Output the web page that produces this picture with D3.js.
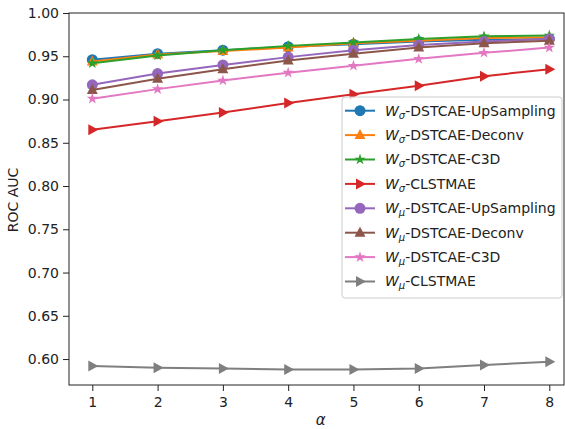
<!DOCTYPE html>
<html>
<head>
<meta charset="utf-8">
<script src="https://cdn.jsdelivr.net/npm/d3@7"></script>
<style>
  body { margin: 0; background: #fff; }
  text { font-family: "DejaVu Sans", sans-serif; }
</style>
</head>
<body>
<div id="chart-container"></div>
<script>
// data
const alphas = [1, 2, 3, 4, 5, 6, 7, 8];
const seriesNames = [
  ["W", "σ", "-DSTCAE-UpSampling"],
  ["W", "σ", "-DSTCAE-Deconv"],
  ["W", "σ", "-DSTCAE-C3D"],
  ["W", "σ", "-CLSTMAE"],
  ["W", "μ", "-DSTCAE-UpSampling"],
  ["W", "μ", "-DSTCAE-Deconv"],
  ["W", "μ", "-DSTCAE-C3D"],
  ["W", "μ", "-CLSTMAE"]
];
const sigmaUp = [0.946, 0.953, 0.957, 0.961, 0.964, 0.967, 0.969, 0.970];
const sigmaDeconv = [0.944, 0.952, 0.956, 0.960, 0.965, 0.968, 0.971, 0.972];
const sigmaC3D = [0.942, 0.951, 0.957, 0.962, 0.966, 0.970, 0.973, 0.974];
const sigmaCLSTM = [0.865, 0.875, 0.885, 0.896, 0.906, 0.916, 0.927, 0.935];
const muUp = [0.917, 0.930, 0.940, 0.949, 0.957, 0.963, 0.967, 0.970];
const muDeconv = [0.911, 0.924, 0.935, 0.945, 0.953, 0.960, 0.965, 0.968];
const muC3D = [0.901, 0.912, 0.922, 0.931, 0.939, 0.947, 0.954, 0.960];
const muCLSTM = [0.592, 0.590, 0.589, 0.588, 0.588, 0.589, 0.593, 0.597];
const yTicks = [0.60, 0.65, 0.70, 0.75, 0.80, 0.85, 0.90, 0.95, 1.00];

const allSeries = [sigmaUp, sigmaDeconv, sigmaC3D, sigmaCLSTM, muUp, muDeconv, muC3D, muCLSTM];
const colors = ["#1f77b4", "#ff7f0e", "#2ca02c", "#d62728", "#9467bd", "#8c564b", "#e377c2", "#7f7f7f"];
const markers = ["circle", "up", "star", "right", "circle", "up", "star", "right"];

const W = 565, H = 429;
const margin = {top: 13, right: 1, bottom: 44, left: 69};
const width = W - margin.left - margin.right;
const height = H - margin.top - margin.bottom;

const x = d3.scaleLinear().domain([0.643, 8.225]).range([0, width]);
const y = d3.scaleLinear().domain([0.57, 1.0]).range([height, 0]);

const svg = d3.select("#chart-container")
  .append("svg")
  .attr("width", W)
  .attr("height", H)
  .append("g")
  .attr("transform", `translate(${margin.left},${margin.top})`);

// axes
const xAxis = svg.append("g")
  .attr("transform", `translate(0,${height})`)
  .call(d3.axisBottom(x).tickValues(alphas).tickFormat(d3.format("d")).tickSize(6).tickPadding(4));
const yAxis = svg.append("g")
  .call(d3.axisLeft(y).tickValues(yTicks).tickFormat(d3.format(".2f")).tickSize(6).tickPadding(4));
[xAxis, yAxis].forEach(a => {
  a.select(".domain").remove();
  a.selectAll("line").attr("stroke", "#222").attr("stroke-width", 1);
  a.selectAll("text").attr("font-size", 14).attr("fill", "#222");
});
xAxis.selectAll("text").attr("dy", "0.85em");

// frame
svg.append("rect")
  .attr("width", width).attr("height", height)
  .attr("fill", "none").attr("stroke", "#222").attr("stroke-width", 1);

// axis titles
svg.append("text")
  .attr("transform", `translate(${13 - margin.left},${200 - margin.top}) rotate(-90)`)
  .attr("text-anchor", "middle").attr("dy", "0.35em")
  .attr("font-size", 14).attr("fill", "#222")
  .text("ROC AUC");
svg.append("text")
  .attr("x", x(4.5)).attr("y", 420 - margin.top)
  .attr("text-anchor", "middle").attr("dy", "0.35em")
  .attr("font-size", 15).attr("font-style", "italic").attr("fill", "#222")
  .text("α");

function markerPath(kind) {
  if (kind === "circle") return d3.symbol(d3.symbolCircle, 95)();
  if (kind === "star") return d3.symbol(d3.symbolStar, 40)();
  if (kind === "up") return "M0,-6L5.5,4L-5.5,4Z";
  return "M6,0L-4,-5.5L-4,5.5Z";
}

const line = d3.line()
  .x((d, i) => x(alphas[i]))
  .y(d => y(d));

allSeries.forEach((vals, k) => {
  const g = svg.append("g");
  g.append("path")
    .datum(vals)
    .attr("fill", "none")
    .attr("stroke", colors[k])
    .attr("stroke-width", 2)
    .attr("d", line);
  g.selectAll("path.m")
    .data(vals)
    .join("path")
    .attr("class", "m")
    .attr("transform", (d, i) => `translate(${x(alphas[i])},${y(d)})`)
    .attr("d", markerPath(markers[k]))
    .attr("fill", colors[k]);
});

// legend
const leg = svg.append("g").attr("transform", `translate(${342 - margin.left},${97 - margin.top})`);
leg.append("rect")
  .attr("width", 220).attr("height", 201).attr("rx", 3)
  .attr("fill", "#fff").attr("fill-opacity", 0.8)
  .attr("stroke", "#ccc").attr("stroke-width", 1);
seriesNames.forEach((nm, k) => {
  const cy = 13.7 + k * 24.4;
  const row = leg.append("g").attr("transform", `translate(0,${cy})`);
  row.append("line")
    .attr("x1", 3).attr("x2", 33)
    .attr("stroke", colors[k]).attr("stroke-width", 2);
  row.append("path")
    .attr("transform", "translate(18,0)")
    .attr("d", markerPath(markers[k]))
    .attr("fill", colors[k]);
  const t = row.append("text")
    .attr("x", 43).attr("dy", "0.35em")
    .attr("font-size", 14).attr("fill", "#222");
  t.append("tspan").attr("font-style", "italic").text(nm[0]);
  t.append("tspan").attr("font-style", "italic").attr("font-size", 10).attr("dy", 3).text(nm[1]);
  t.append("tspan").attr("dy", -3).text(nm[2]);
});
</script>
</body>
</html>
